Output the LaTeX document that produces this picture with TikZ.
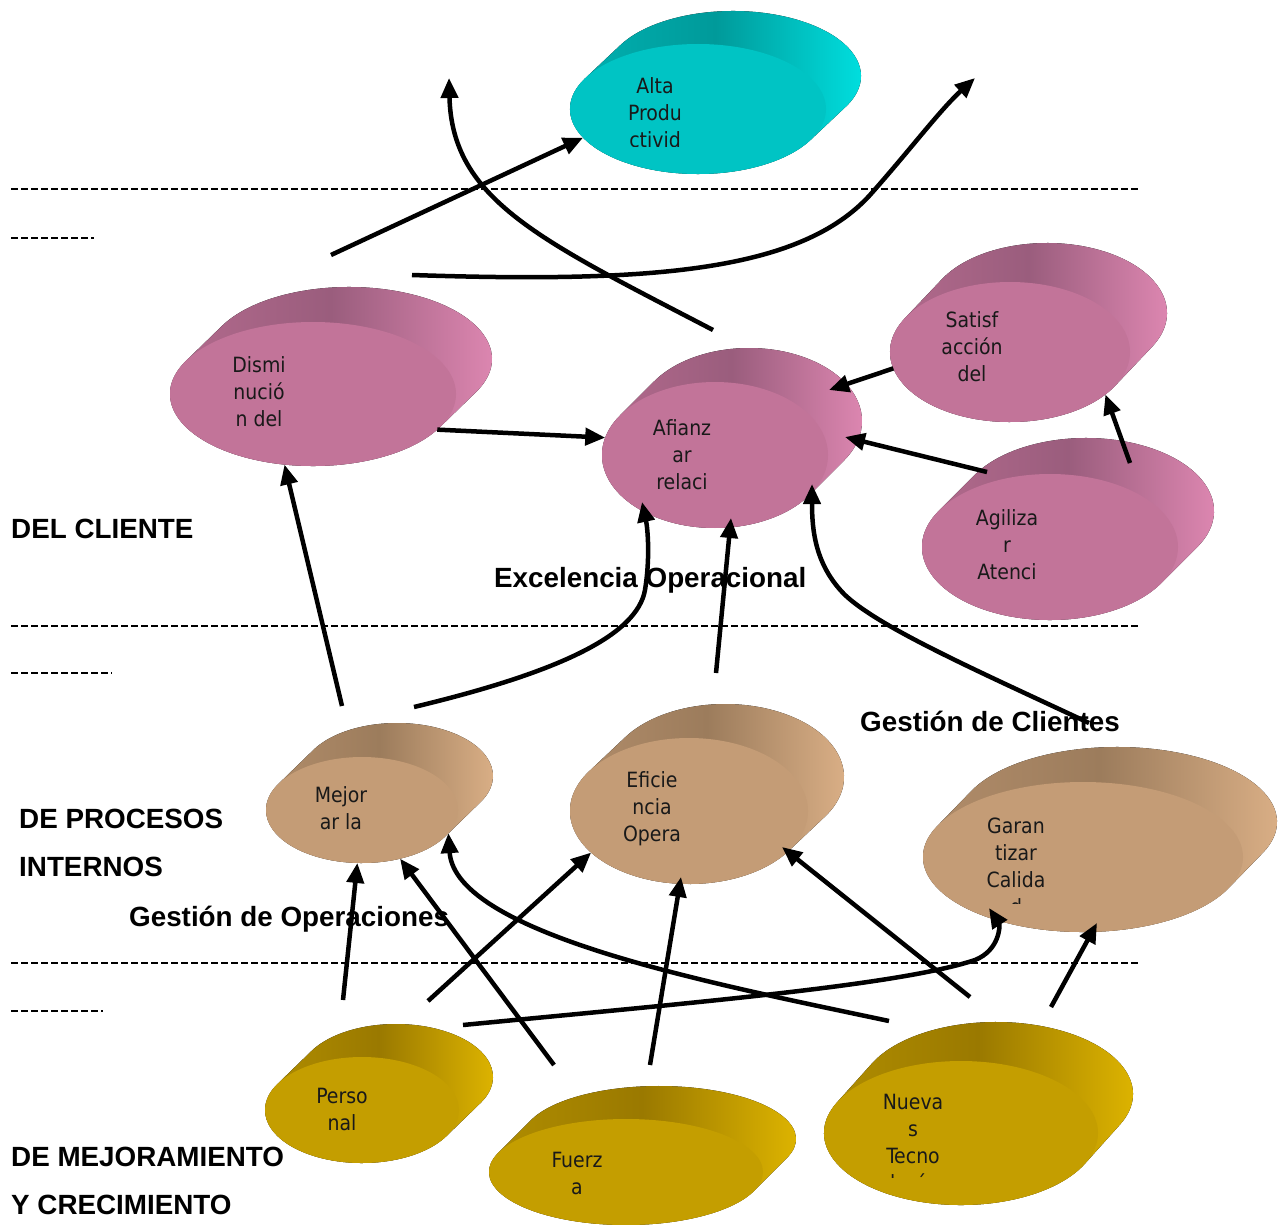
\documentclass[tikz,border=0pt]{standalone}
\usepackage{fontspec}
\setmainfont{Liberation Sans}
\newfontfamily\celltextfont{DejaVu Sans Condensed}
\usetikzlibrary{shapes.geometric,arrows.meta}

\definecolor{cyFace}{HTML}{00C4C4}\definecolor{cyDark}{HTML}{009A9A}
\definecolor{cyLight}{HTML}{00E6E6}\definecolor{cyLeft}{HTML}{00B4B4}
\definecolor{pkFace}{HTML}{C27499}\definecolor{pkDark}{HTML}{9A5D7D}
\definecolor{pkLight}{HTML}{E48BB6}\definecolor{pkLeft}{HTML}{B66C8F}
\definecolor{tnFace}{HTML}{C49C76}\definecolor{tnDark}{HTML}{9C7C5C}
\definecolor{tnLight}{HTML}{E0B48A}\definecolor{tnLeft}{HTML}{B48F6C}
\definecolor{gdFace}{HTML}{C49E00}\definecolor{gdDark}{HTML}{9A7900}
\definecolor{gdLight}{HTML}{E4BA00}\definecolor{gdLeft}{HTML}{B39000}

% #1 cx, #2 cy, #3 rx, #4 ry, #5 dx, #6 dy (up), #7 colour prefix, #8 node name
\newcommand\extdisk[8]{%
  \pgfmathsetmacro\dkT{atan(-(#4*#5)/(#3*#6))}%
  \pgfmathsetmacro\dkA{\dkT+180}%
  \pgfmathsetmacro\dkB{\dkT+360}%
  \fill[left color=#7Left, right color=#7Light, middle color=#7Dark]
    ({#1+#5+#3*cos(\dkT)},{#2-#6-#4*sin(\dkT)})
    arc[start angle=\dkT, end angle=\dkA, x radius=#3pt, y radius=#4pt]
    -- ({#1+#3*cos(\dkA)},{#2-#4*sin(\dkA)})
    arc[start angle=\dkA, end angle=\dkB, x radius=#3pt, y radius=#4pt]
    -- cycle;
  \node[disk, fill=#7Face, minimum width={2*#3pt}, minimum height={2*#4pt}] (#8) at (#1,#2) {};
}

\tikzset{
  disk/.style={ellipse, inner sep=0pt, outer sep=0pt, draw=none},
  celltext/.style={align=center, inner sep=0pt, text=black!90,
    font=\celltextfont\fontsize{21}{27}\selectfont},
  lbl/.style={anchor=base west, inner sep=0pt, font=\bfseries\fontsize{27.8}{33}\selectfont},
  arr/.style={line width=4.5pt, line join=round, -{Triangle[length=20pt,width=17pt]}},
  dashline/.style={line width=2pt, dash pattern=on 7pt off 3pt},
}

\begin{document}
\begin{tikzpicture}[x=1pt, y=-1pt]
\fill[white] (0,0) rectangle (1285,1225);
\useasboundingbox (0,0) rectangle (1285,1225);

% dashed separators
\draw[dashline] (11,189) -- (1138,189);
\draw[dashline] (11,238) -- (94,238);
\draw[dashline] (11,626) -- (1138,626);
\draw[dashline] (11,673) -- (112,673);
\draw[dashline] (11,963) -- (1138,963);
\draw[dashline] (11,1011) -- (103,1011);

% labels
\node[lbl] (lcli) at (11,538) {DEL CLIENTE};
\node[lbl] (lexc) at (494,587) {Excelencia Operacional};
\node[lbl] (lgcl) at (860,731) {Gestión de Clientes};
\node[lbl] (lpro) at (19,828) {DE PROCESOS};
\node[lbl] (lint) at (19,876) {INTERNOS};
\node[lbl] (lgop) at (129,926) {Gestión de Operaciones};
\node[lbl] (lmej) at (11,1166) {DE MEJORAMIENTO};
\node[lbl] (lcre) at (11,1214) {Y CRECIMIENTO};

% disks
\extdisk{698}{109}{128}{65}{35}{33}{cy}{alta}
\extdisk{313}{394}{143}{72}{36}{35}{pk}{dismi}
\extdisk{1010}{352}{120}{70}{37}{39}{pk}{sat}
\extdisk{715}{455}{113}{73}{34}{34}{pk}{afi}
\extdisk{1050}{547}{128}{73}{36}{36}{pk}{agil}
\extdisk{362}{810}{96}{53}{35}{34}{tn}{mej}
\extdisk{689}{811}{119}{73}{36}{34}{tn}{efi}
\extdisk{1083}{857}{160}{75}{34}{35}{tn}{gar}
\extdisk{362}{1110}{97}{53}{34}{33}{gd}{pers}
\extdisk{626}{1172}{137}{53}{33}{33}{gd}{fue}
\extdisk{961}{1133}{137}{72}{35}{39}{gd}{nue}

% disk texts
\begin{scope}
  \clip (580,60) rectangle (740,147);
  \node[celltext] (altaT) at (655,113) {Alta\\Produ\\ctivid};
\end{scope}
\node[celltext] (dismiT) at (259,392) {Dismi\\nució\\n del};
\node[celltext] (satT) at (972,347) {Satisf\\acción\\del};
\node[celltext] (afiT) at (682,455) {Afianz\\ar\\relaci};
\node[celltext] (agilT) at (1007,545) {Agiliza\\r\\Atenci};
\node[celltext] (mejT) at (341,808) {Mejor\\ar la};
\node[celltext] (efiT) at (652,809) {Eficie\\ncia\\Opera};
\begin{scope}
  \clip (940,790) rectangle (1100,903);
  \node[celltext] (garT) at (1016,866) {Garan\\tizar\\Calida\\d};
\end{scope}
\node[celltext] (persT) at (342,1109) {Perso\\nal};
\node[celltext] (fueT) at (577,1173) {Fuerz\\a};
\begin{scope}
  \clip (840,1080) rectangle (990,1177);
  \node[celltext] (nueT) at (913,1145) {Nueva\\s\\Tecno\\logía};
\end{scope}

% free ends
\coordinate (sA1) at (331,255);
\coordinate (sA2) at (713,330);  \coordinate (tA2) at (449,78);
\coordinate (sA3) at (412,275);  \coordinate (tA3) at (975,78);
\coordinate (tA5) at (829,390);
\coordinate (sA6) at (987,472);  \coordinate (tA6) at (845,437);
\coordinate (sA7) at (1130,463);
\coordinate (sA8) at (342,706);
\coordinate (sA9) at (414,707);  \coordinate (tA9) at (642,502);
\coordinate (sA10) at (716,673); \coordinate (tA10) at (731,518);
\coordinate (sA11) at (1089,723); \coordinate (tA11) at (812,484);
\coordinate (sB1) at (343,1000);
\coordinate (sB2) at (428,1001);
\coordinate (sB3) at (554,1065);
\coordinate (sB4) at (889,1021);
\coordinate (sB5) at (650,1065); \coordinate (tB5) at (681,877);
\coordinate (sB6) at (463,1025); \coordinate (tB6) at (989,908);
\coordinate (sB7) at (970,997);  \coordinate (tB7) at (782,847);
\coordinate (sB8) at (1051,1007); \coordinate (tB8) at (1097,923);

% connectors
\draw[arr] (sA1) -- (alta.194);
\draw[arr] (sA2) .. controls (540,240) and (452,200) .. (tA2);
\draw[arr] (sA3) .. controls (650,283) and (800,272) .. (870,195)
                 .. controls (910,150) and (940,110) .. (tA3);
\draw[arr] (dismi.-16) -- (afi.171);
\draw[arr] (sat.188) -- (tA5);
\draw[arr] (sA6) -- (tA6);
\draw[arr] (sA7) -- (sat.-24);
\draw[arr] (sA8) -- (dismi.-112);
\draw[arr] (sA9) .. controls (560,672) and (637,635) .. (645,590)
                 .. controls (650,560) and (648,530) .. (tA9);
\draw[arr] (sA10) -- (tA10);
\draw[arr] (sA11) .. controls (980,672) and (880,628) .. (845,595)
                  .. controls (815,565) and (812,530) .. (tA11);
\draw[arr] (sB1) -- (mej.-95);
\draw[arr] (sB2) -- (efi.-157);
\draw[arr] (sB3) -- (mej.-52);
\draw[arr] (sB4) .. controls (720,985) and (455,935) .. (mej.-15);
\draw[arr] (sB5) -- (tB5);
\draw[arr] (sB6) .. controls (700,1002) and (900,985) .. (975,960)
                 .. controls (1000,950) and (1000,925) .. (tB6);
\draw[arr] (sB7) -- (tB7);
\draw[arr] (sB8) -- (tB8);
\end{tikzpicture}
\end{document}
